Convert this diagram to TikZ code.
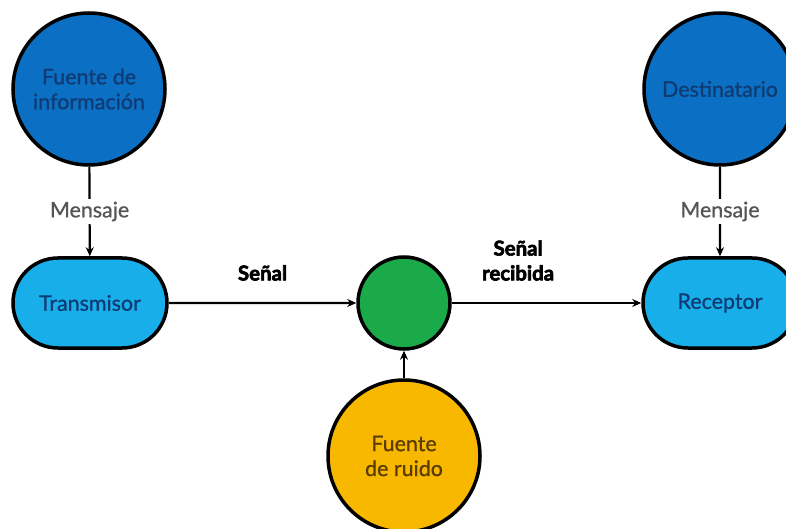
\documentclass[tikz,border=0pt]{standalone}
\usepackage{fontspec}
\setmainfont{Lato}[FakeBold=0.8]
\newfontfamily\heavyfont[FakeBold=3]{Lato}
\usetikzlibrary{arrows.meta,shapes.misc}
\definecolor{darkblue}{HTML}{0B6FC4}
\definecolor{lightblue}{HTML}{18AEEA}
\definecolor{navytext}{HTML}{0F3B72}
\definecolor{greenfill}{HTML}{1AAA4A}
\definecolor{yellowfill}{HTML}{F8B800}
\definecolor{browntext}{HTML}{5A3B00}
\definecolor{greytext}{HTML}{555555}
\tikzset{
  x=1bp, y=-1bp,
  bigcircle/.style={circle, draw=black, line width=3.5bp, minimum size=152bp, inner sep=0pt, align=center, font=\fontsize{21.5}{25}\selectfont},
  pill/.style={rounded rectangle, draw=black, line width=3.5bp, minimum width=154bp, minimum height=90bp, inner sep=0pt, font=\fontsize{21.5}{25}\selectfont, fill=lightblue, text=navytext},
  conn/.style={line width=2.2bp, -{Stealth[length=9bp,width=8bp]}},
  msglabel/.style={fill=white, text=greytext, font=\fontsize{21.5}{25}\selectfont, inner sep=3bp},
  siglabel/.style={font=\heavyfont\fontsize{20.5}{25}\bfseries\selectfont, align=center, text=black}
}
\begin{document}
\begin{tikzpicture}
\useasboundingbox (0,0) rectangle (786,529);
\node[bigcircle, fill=darkblue, text=navytext] (fi) at (89,89) {Fuente de\\información};
\node[bigcircle, fill=darkblue, text=navytext] (dest) at (720,89) {Destinatario};
\node[pill] (trans) at (90,303) {Transmisor};
\node[pill] (rec) at (720,303) {Receptor};
\node[circle, draw=black, line width=3.5bp, minimum size=92bp, fill=greenfill] (mix) at (404,303) {};
\node[bigcircle, fill=yellowfill, text=browntext] (ruido) at (404,456) {Fuente\\de ruido};
\draw[conn] (fi) -- node[msglabel] {Mensaje} (trans);
\draw[conn] (dest) -- node[msglabel] {Mensaje} (rec);
\draw[conn] (trans) -- node[siglabel, above=18bp] {Señal} (mix);
\draw[conn] (mix) -- node[siglabel, pos=0.35, above=18bp] {Señal\\recibida} (rec);
\draw[conn] (ruido) -- (mix);
\end{tikzpicture}
\end{document}
